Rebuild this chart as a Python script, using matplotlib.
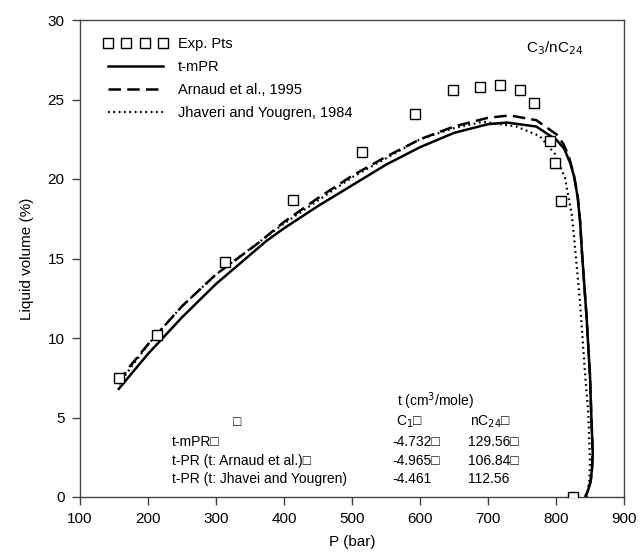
import matplotlib
matplotlib.use("Agg")
import matplotlib.pyplot as plt
from matplotlib.lines import Line2D

plt.rcParams['font.family'] = ['Liberation Sans', 'DejaVu Sans']

# Experimental points
exp_p = [157, 213, 313, 413, 515, 592, 648, 688, 718, 747, 768, 791, 798, 807, 825]
exp_v = [7.5, 10.2, 14.8, 18.7, 21.7, 24.1, 25.6, 25.8, 25.9, 25.6, 24.8, 22.4, 21.0, 18.6, 0.0]

# t-mPR (solid)
mpr_p = [157, 200, 250, 300, 374, 400, 450, 500, 550, 600, 650, 700, 728, 771, 801, 812,
         821, 827, 832, 835.5, 838, 845, 850, 852, 854, 853, 851, 847, 843]
mpr_v = [6.8, 9.0, 11.3, 13.4, 16.1, 16.9, 18.3, 19.6, 20.9, 22.0, 22.9, 23.45, 23.55, 23.3, 22.45, 21.9,
         21.0, 20.1, 18.8, 17.3, 15.5, 11.3, 7.6, 5.0, 2.8, 1.8, 1.0, 0.4, 0.0]

# Arnaud et al., 1995 (dashed)
arn_p = [157, 173, 200, 250, 300, 360, 400, 450, 500, 550, 600, 650, 700, 732, 771, 801,
         811, 819, 826, 832, 835.5, 838, 845, 850, 852, 854, 853, 851, 847, 843]
arn_v = [7.2, 8.2, 9.6, 12.0, 14.0, 15.9, 17.3, 18.8, 20.2, 21.4, 22.5, 23.3, 23.85, 24.0, 23.7, 22.8,
         22.2, 21.4, 20.3, 18.9, 17.3, 15.5, 11.3, 7.6, 5.0, 2.8, 1.8, 1.0, 0.4, 0.0]

# Jhaveri and Yougren, 1984 (dotted)
jy_p = [157, 200, 250, 300, 400, 500, 600, 650, 693, 742, 776, 798, 813, 823, 826, 835,
        843, 847.5, 850, 849, 845]
jy_v = [7.1, 9.6, 12.0, 14.0, 17.2, 20.1, 22.5, 23.2, 23.6, 23.3, 22.7, 21.6, 20.1, 17.8, 16.6, 12.4,
        7.6, 5.3, 2.1, 1.0, 0.0]

# table of t values
tbl_rows = ["t-mPR\u25a1", "t-PR (t: Arnaud et al.)\u25a1", "t-PR (t: Jhavei and Yougren)"]
tbl_c1 = ["-4.732\u25a1", "-4.965\u25a1", "-4.461"]
tbl_nc24 = ["129.56\u25a1", "106.84\u25a1", "112.56"]

fig = plt.figure(figsize=(6.4, 5.55), dpi=100)
ax = fig.add_axes([80 / 640, 1 - 497 / 555, (624 - 80) / 640, (497 - 20) / 555])

ax.plot(exp_p, exp_v, linestyle='none', marker='s', markersize=6.5,
        markerfacecolor='white', markeredgecolor='black', markeredgewidth=1.0, zorder=5)
ax.plot(mpr_p, mpr_v, color='black', linewidth=1.8)
ax.plot(arn_p, arn_v, color='black', linewidth=1.8, linestyle=(0, (5, 2.5)))
ax.plot(jy_p, jy_v, color='black', linewidth=1.6, linestyle=(0, (0.8, 1.6)))

ax.set_xlim(100, 900)
ax.set_ylim(0, 30)
ax.set_xticks(range(100, 901, 100))
ax.set_yticks(range(0, 31, 5))
ax.tick_params(direction='out', length=6, width=1, labelsize=11, color='#444444', pad=5)
for s in ax.spines.values():
    s.set_color('#444444')
    s.set_linewidth(1.0)

ax.set_xlabel("P (bar)", fontsize=11, labelpad=6)
ax.set_ylabel("Liquid volume (%)", fontsize=11, labelpad=10)

handles = [
    Line2D([], [], linestyle='none', marker='s', markersize=6.5, markerfacecolor='white',
           markeredgecolor='black', markeredgewidth=1.0),
    Line2D([], [], color='black', linewidth=1.8),
    Line2D([], [], color='black', linewidth=1.8, linestyle=(0, (5, 2.5))),
    Line2D([], [], color='black', linewidth=1.6, linestyle=(0, (0.8, 1.6))),
]
labels = ["Exp. Pts", "t-mPR", "Arnaud et al., 1995", "Jhaveri and Yougren, 1984"]
ax.legend(handles, labels, loc='upper left', frameon=False, fontsize=10.5, numpoints=4,
          handlelength=4.4, handletextpad=0.7, labelspacing=0.6,
          bbox_to_anchor=(0.024, 0.985), borderaxespad=0.3)

ax.text(840, 28.2, r"C$_3$/nC$_{24}$", ha='right', va='center', fontsize=11)

# t table
ax.text(566, 6.0, r"t (cm$^3$/mole)", ha='left', va='center', fontsize=10)
ax.text(325, 4.7, "\u25a1", ha='left', va='center', fontsize=10)
ax.text(565, 4.7, "C$_1$\u25a1", ha='left', va='center', fontsize=10)
ax.text(673, 4.7, "nC$_{24}$\u25a1", ha='left', va='center', fontsize=10)
row_y = [3.46, 2.26, 1.13]
for i in range(3):
    ax.text(235, row_y[i], tbl_rows[i], ha='left', va='center', fontsize=10)
    ax.text(559, row_y[i], tbl_c1[i], ha='left', va='center', fontsize=10)
    ax.text(670, row_y[i], tbl_nc24[i], ha='left', va='center', fontsize=10)

fig.savefig("out.png", dpi=100)
